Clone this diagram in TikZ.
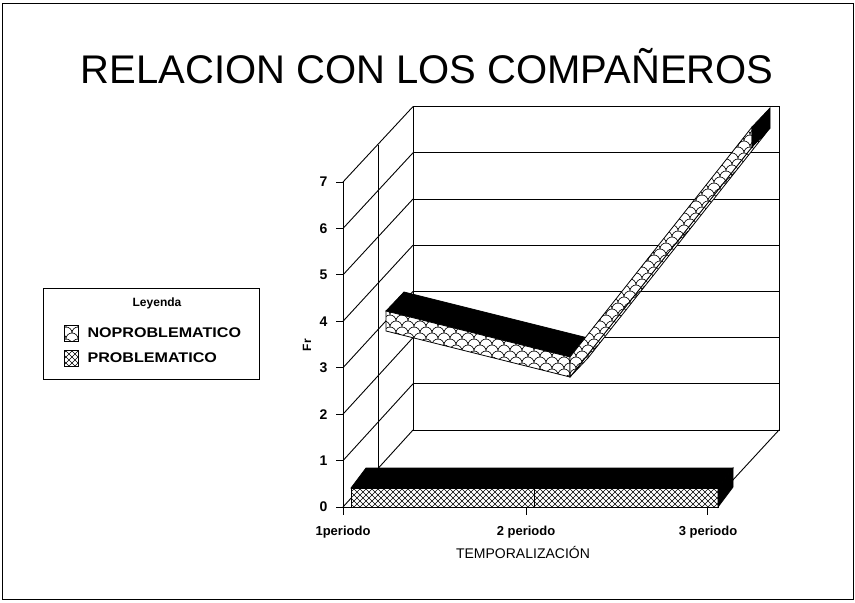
\documentclass[tikz,border=0pt]{standalone}
\usepackage{fontspec}
\setmainfont{Liberation Sans}
\usetikzlibrary{patterns}

% fill patterns of the two series
\pgfdeclarepatternformonly{fishscales}{\pgfqpoint{-1pt}{-1pt}}{\pgfqpoint{13pt}{13pt}}{\pgfqpoint{12pt}{12pt}}{
  \pgfsetlinewidth{0.6pt}
  \pgfpathmoveto{\pgfqpoint{0pt}{6pt}}
  \pgfpatharc{180}{0}{6pt}
  \pgfpathmoveto{\pgfqpoint{0pt}{6pt}}
  \pgfpatharc{90}{0}{6pt}
  \pgfpatharc{180}{90}{6pt}
  \pgfusepath{stroke}
}
\pgfdeclarepatternformonly{diamondhatch}{\pgfqpoint{-1pt}{-1pt}}{\pgfqpoint{7pt}{7pt}}{\pgfqpoint{6pt}{6pt}}{
  \pgfsetlinewidth{0.5pt}
  \pgfpathmoveto{\pgfqpoint{0pt}{0pt}}
  \pgfpathlineto{\pgfqpoint{6pt}{6pt}}
  \pgfpathmoveto{\pgfqpoint{0pt}{6pt}}
  \pgfpathlineto{\pgfqpoint{6pt}{0pt}}
  \pgfusepath{stroke}
}

\tikzset{
  gridline/.style={line width=0.9pt},
  ytick label/.style={font=\fontsize{14}{14}\selectfont\bfseries, anchor=east},
  xtick label/.style={font=\fontsize{13}{13}\selectfont\bfseries},
  legend text/.style={font=\fontsize{14}{14}\selectfont\bfseries, anchor=west},
  ribbon top/.style={fill=black, draw=black, line width=0.8pt},
  scales face/.style={draw=black, line width=0.8pt, fill=white, postaction={pattern=fishscales}},
  hatch face/.style={draw=black, line width=0.8pt, fill=white, postaction={pattern=diamondhatch}}
}

\begin{document}
\begin{tikzpicture}[x=1pt, y=-1pt]
  \useasboundingbox (0,0) rectangle (855,603);
  % Outer frame
  \draw[line width=0.6pt] (2,3) rectangle (853,599);

  % Title
  \node (title) at (427,66) {\fontsize{40}{40}\selectfont RELACION CON LOS COMPAÑEROS};

  % Back wall and its grid lines
  \draw[gridline] (413,106.6) rectangle (779,430);
  \foreach \v in {1,...,6}
    \draw[gridline] (413,430-46.2*\v) -- (779,430-46.2*\v);

  % Left wall: grid lines from the front axis to the back wall
  \foreach \v in {0,...,7}
    \draw[gridline] (343,507-46.43*\v) -- (413,430-46.2*\v);
  \draw[gridline] (378.5,144.5) -- (378.5,468.5);

  % Floor
  \draw[gridline] (343,507) -- (718,507);
  \draw[gridline] (779,430) -- (708,507);

  % Value axis with ticks and labels
  \draw[gridline] (343,182) -- (343,515);
  \foreach \v in {0,...,7} {
    \draw[gridline] (336,507-46.43*\v) -- (343,507-46.43*\v);
    \node[ytick label] (ylab\v) at (331,507-46.43*\v) {\v};
  }
  \node[font=\fontsize{12}{12}\selectfont\bfseries, rotate=90] (ytitle) at (307,345) {Fr};

  % Category ticks and labels
  \draw[gridline] (526,507) -- (526,515);
  \draw[gridline] (707,507) -- (707,515);
  \node[xtick label] (xlab1) at (343,532) {1periodo};
  \node[xtick label] (xlab2) at (526,532) {2 periodo};
  \node[xtick label] (xlab3) at (708,532) {3 periodo};
  \node[font=\fontsize{14}{14}\selectfont] (xtitle) at (523,552) {TEMPORALIZACIÓN};

  % Series NOPROBLEMATICO (back ribbon)
  \coordinate (n1t) at (386,311);  \coordinate (n1b) at (386,331);
  \coordinate (n2t) at (570,357);  \coordinate (n2b) at (570,377);
  \coordinate (n3t) at (752,127);  \coordinate (n3b) at (752,147);
  \coordinate (n1k) at (404,292);  \coordinate (n2k) at (588,338);
  \coordinate (n3k) at (770,108);  \coordinate (n2kb) at (588,358);
  \coordinate (n3kb) at (770,128);
  \draw[ribbon top] (n1t) -- (n2t) -- (n2k) -- (n1k) -- cycle;
  \draw[scales face] (n1t) -- (n2t) -- (n2b) -- (n1b) -- cycle;
  \draw[scales face] (n2b) -- (n3b) -- (n3kb) -- (n2kb) -- cycle;
  \draw[scales face] (n2t) -- (n3t) -- (n3b) -- (n2b) -- cycle;
  \draw[ribbon top] (n3t) -- (n3k) -- (n3kb) -- (n3b) -- cycle;

  % Series PROBLEMATICO (front ribbon)
  \coordinate (p1t) at (351,488);  \coordinate (p1b) at (351,507);
  \coordinate (p3t) at (718,488);  \coordinate (p3b) at (718,507);
  \coordinate (p1k) at (366,468);  \coordinate (p3k) at (733,468);
  \coordinate (p3kb) at (733,487);
  \draw[ribbon top] (p1t) -- (p3t) -- (p3k) -- (p1k) -- cycle;
  \draw[hatch face] (p1t) rectangle (p3b);
  \draw[line width=0.8pt] (534,488) -- (534,507);
  \draw[ribbon top] (p3t) -- (p3k) -- (p3kb) -- (p3b) -- cycle;

  % Legend
  \draw[line width=0.8pt] (43,288) rectangle (259,379);
  \node[font=\fontsize{12}{12}\selectfont\bfseries] (legendtitle) at (157,303) {Leyenda};
  \draw[scales face] (64,325) rectangle (78,341);
  \draw[hatch face] (64,350) rectangle (78,366);
  \node[legend text] (legend1) at (84,333) {\scalebox{1.15}[1]{NOPROBLEMATICO}};
  \node[legend text] (legend2) at (84,358) {\scalebox{1.15}[1]{PROBLEMATICO}};
\end{tikzpicture}
\end{document}
